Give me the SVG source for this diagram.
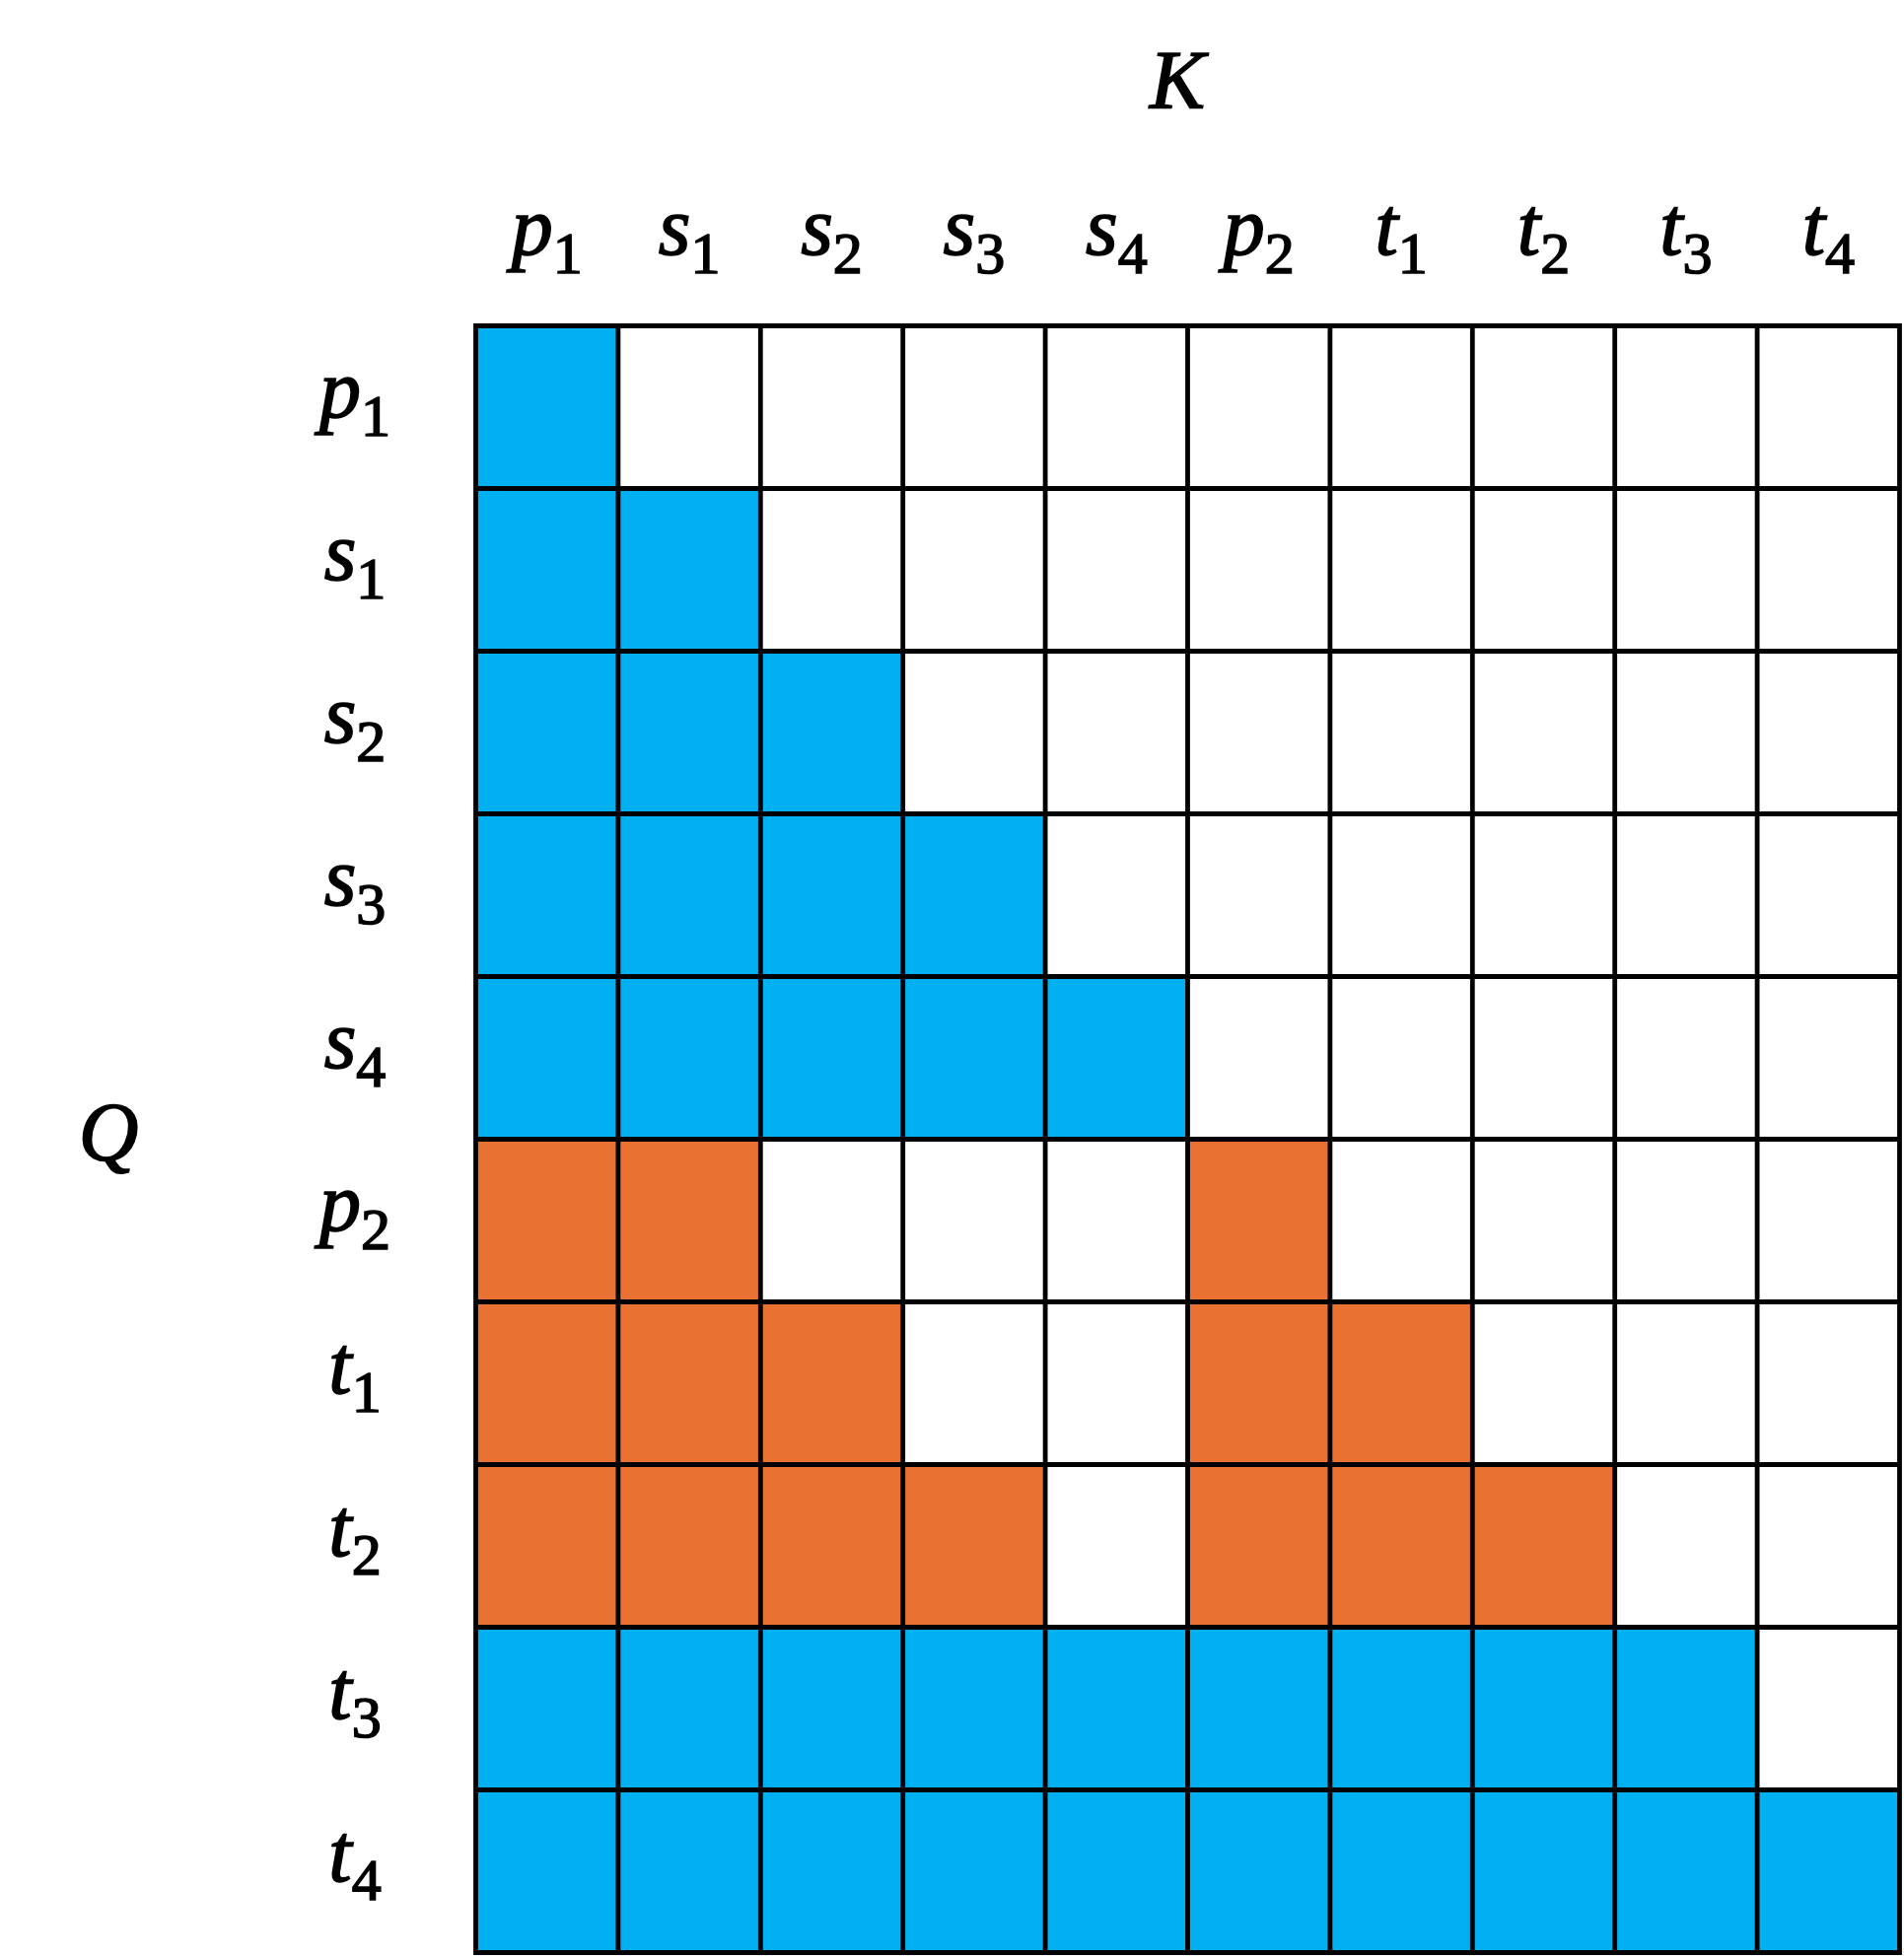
<svg xmlns="http://www.w3.org/2000/svg" width="1931" height="1986" viewBox="0 0 1931 1986">
<style>
.b{fill:#00B0F0}
.o{fill:#E97132}
.g{fill:none;stroke:#000;stroke-width:4.8;stroke-linecap:square}
.m{font-family:"Liberation Serif","Times New Roman",serif;font-style:italic;font-size:84px;fill:#000;stroke:#000;stroke-width:1.6;text-anchor:middle}
.s{font-style:normal;font-size:60px}
</style>
<rect width="1931" height="1986" fill="#fff"/>
<g id="cells">
<rect class="b" x="482.5" y="330.5" width="144.4" height="165"/>
<rect class="b" x="482.5" y="495.5" width="288.8" height="165"/>
<rect class="b" x="482.5" y="660.5" width="433.2" height="165"/>
<rect class="b" x="482.5" y="825.5" width="577.6" height="165"/>
<rect class="b" x="482.5" y="990.5" width="722" height="165"/>
<rect class="o" x="482.5" y="1155.5" width="288.8" height="165"/>
<rect class="o" x="1204.5" y="1155.5" width="144.4" height="165"/>
<rect class="o" x="482.5" y="1320.5" width="433.2" height="165"/>
<rect class="o" x="1204.5" y="1320.5" width="288.8" height="165"/>
<rect class="o" x="482.5" y="1485.5" width="577.6" height="165"/>
<rect class="o" x="1204.5" y="1485.5" width="433.2" height="165"/>
<rect class="b" x="482.5" y="1650.5" width="1299.6" height="165"/>
<rect class="b" x="482.5" y="1815.5" width="1444" height="165"/>
</g>
<g id="grid">
<path class="g" d="M482.5 330.5V1980.5M626.9 330.5V1980.5M771.3 330.5V1980.5M915.7 330.5V1980.5M1060.1 330.5V1980.5M1204.5 330.5V1980.5M1348.9 330.5V1980.5M1493.3 330.5V1980.5M1637.7 330.5V1980.5M1782.1 330.5V1980.5M1926.5 330.5V1980.5M482.5 330.5H1926.5M482.5 495.5H1926.5M482.5 660.5H1926.5M482.5 825.5H1926.5M482.5 990.5H1926.5M482.5 1155.5H1926.5M482.5 1320.5H1926.5M482.5 1485.5H1926.5M482.5 1650.5H1926.5M482.5 1815.5H1926.5M482.5 1980.5H1926.5"/>
</g>
<g id="axis-labels">
<text class="m" x="1194" y="110">K</text>
<text class="m" x="110" y="1177">Q</text>
</g>
<g id="column-labels">
<text class="m" x="554.7" y="258">p<tspan class="s" dy="19">1</tspan></text>
<text class="m" x="699.1" y="258">s<tspan class="s" dy="19">1</tspan></text>
<text class="m" x="843.5" y="258">s<tspan class="s" dy="19">2</tspan></text>
<text class="m" x="987.9" y="258">s<tspan class="s" dy="19">3</tspan></text>
<text class="m" x="1132.3" y="258">s<tspan class="s" dy="19">4</tspan></text>
<text class="m" x="1276.7" y="258">p<tspan class="s" dy="19">2</tspan></text>
<text class="m" x="1421.1" y="258">t<tspan class="s" dy="19">1</tspan></text>
<text class="m" x="1565.5" y="258">t<tspan class="s" dy="19">2</tspan></text>
<text class="m" x="1709.9" y="258">t<tspan class="s" dy="19">3</tspan></text>
<text class="m" x="1854.3" y="258">t<tspan class="s" dy="19">4</tspan></text>
</g>
<g id="row-labels">
<text class="m" x="360" y="423">p<tspan class="s" dy="19">1</tspan></text>
<text class="m" x="360" y="588">s<tspan class="s" dy="19">1</tspan></text>
<text class="m" x="360" y="753">s<tspan class="s" dy="19">2</tspan></text>
<text class="m" x="360" y="918">s<tspan class="s" dy="19">3</tspan></text>
<text class="m" x="360" y="1083">s<tspan class="s" dy="19">4</tspan></text>
<text class="m" x="360" y="1248">p<tspan class="s" dy="19">2</tspan></text>
<text class="m" x="360" y="1413">t<tspan class="s" dy="19">1</tspan></text>
<text class="m" x="360" y="1578">t<tspan class="s" dy="19">2</tspan></text>
<text class="m" x="360" y="1743">t<tspan class="s" dy="19">3</tspan></text>
<text class="m" x="360" y="1908">t<tspan class="s" dy="19">4</tspan></text>
</g>
</svg>
